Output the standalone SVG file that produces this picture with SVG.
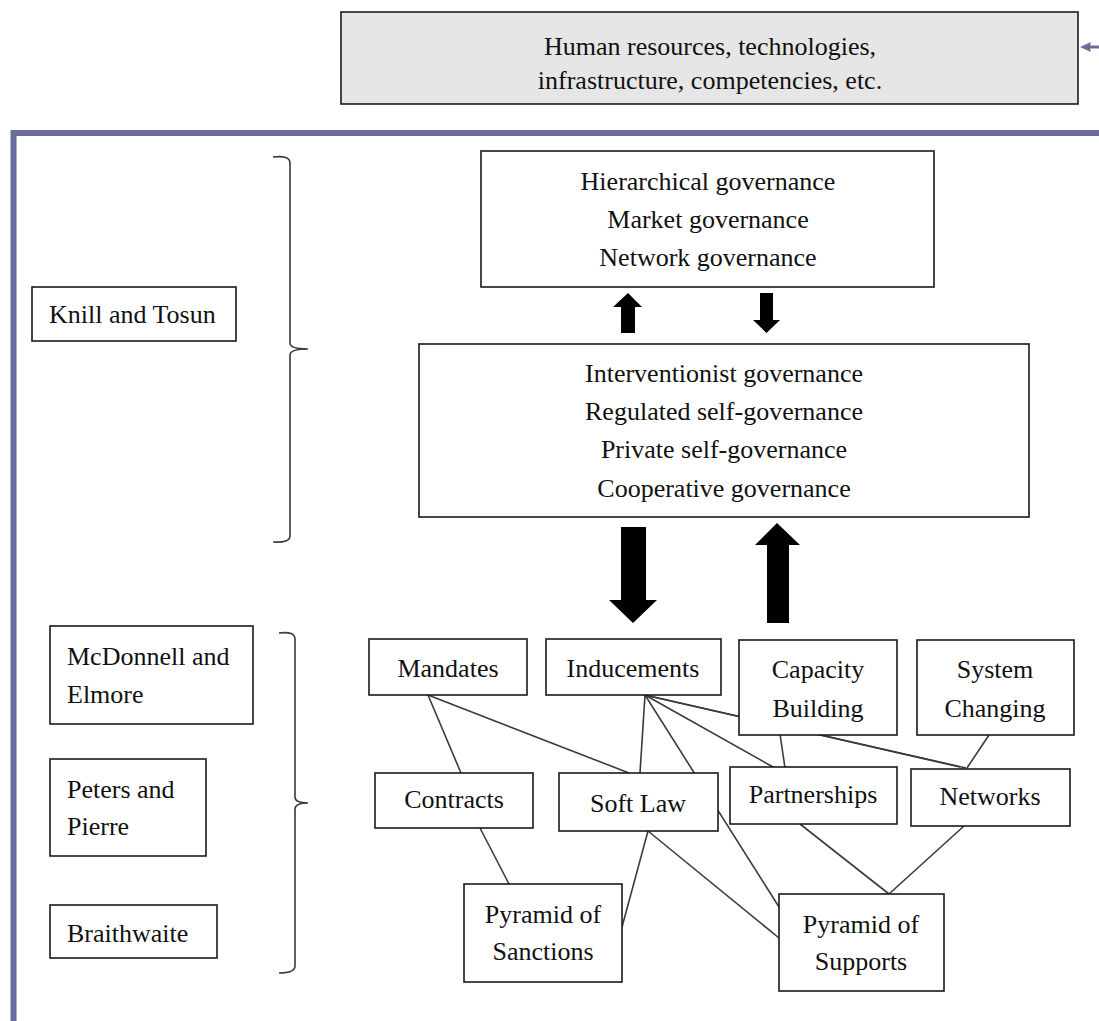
<svg xmlns="http://www.w3.org/2000/svg" width="1099" height="1021" viewBox="0 0 1099 1021">
<style>
  .box { fill: #ffffff; stroke: #1a1a1a; stroke-width: 1.6; }
  .grey { fill: #e6e6e6; stroke: #1a1a1a; stroke-width: 1.6; }
  .t { font-family: "Liberation Serif", "Times New Roman", serif; font-size: 26px; fill: #111; }
  .c { text-anchor: middle; }
  .conn { stroke: #3a3a44; stroke-width: 1.6; fill: none; }
  .brace { stroke: #3a3a3a; stroke-width: 1.6; fill: none; }
  .blk { fill: #000; }
  .frame { stroke: #6b6b9e; stroke-width: 6; fill: none; }
</style>
<rect x="0" y="0" width="1099" height="1021" fill="#ffffff"/>

<g id="frame">
  <path class="frame" d="M13.5,1021 L13.5,133 L1099,133"/>
  <path d="M1080,47 L1091,42 L1090,45.5 L1099,45.5 L1099,48.5 L1090,48.5 L1091,52 Z" fill="#6b6b9e"/>
</g>

<g id="resources">
  <rect class="grey" x="341" y="12" width="737" height="92"/>
  <text class="t c" x="710" y="55">Human resources, technologies,</text>
  <text class="t c" x="710" y="89">infrastructure, competencies, etc.</text>
</g>

<g id="governance-modes">
  <rect class="box" x="481" y="151" width="453" height="136"/>
  <text class="t c" x="708" y="190">Hierarchical governance</text>
  <text class="t c" x="708" y="228">Market governance</text>
  <text class="t c" x="708" y="266">Network governance</text>
</g>

<g id="governance-types">
  <rect class="box" x="419" y="344" width="610" height="173"/>
  <text class="t c" x="724" y="382">Interventionist governance</text>
  <text class="t c" x="724" y="420">Regulated self-governance</text>
  <text class="t c" x="724" y="458">Private self-governance</text>
  <text class="t c" x="724" y="497">Cooperative governance</text>
</g>

<g id="knill-tosun">
  <rect class="box" x="32" y="287" width="204" height="54"/>
  <text class="t" x="49" y="323">Knill and Tosun</text>
</g>

<g id="mcdonnell-elmore">
  <rect class="box" x="50" y="626" width="203" height="98"/>
  <text class="t" x="67" y="665">McDonnell and</text>
  <text class="t" x="67" y="703">Elmore</text>
</g>

<g id="peters-pierre">
  <rect class="box" x="50" y="759" width="156" height="97"/>
  <text class="t" x="67" y="798">Peters and</text>
  <text class="t" x="67" y="835">Pierre</text>
</g>

<g id="braithwaite">
  <rect class="box" x="50" y="905" width="167" height="53"/>
  <text class="t" x="67" y="942">Braithwaite</text>
</g>

<g id="braces">
  <path class="brace" d="M273,157 Q290,155 290,163 L290,343 Q290,349 308,349 Q290,349 290,355 L290,536 Q290,543 273,542"/>
  <path class="brace" d="M279,633 Q295,631 295,639 L295,797 Q295,803 308,803 Q295,803 295,809 L295,966 Q295,973 279,973"/>
</g>

<g id="connectors">
  <polygon class="blk" points="621,333 621,307 613,307 628,293 642,307 635,307 635,333"/>
  <polygon class="blk" points="760,293 773,293 773,320 780,320 766.5,333 753,320 760,320"/>
  <polygon class="blk" points="621,527 646,527 646,600 657,600 633,623 609,600 621,600"/>
  <polygon class="blk" points="767,623 767,545 755,545 777,523 800,545 789,545 789,623"/>
  <line class="conn" x1="428" y1="695" x2="461" y2="773"/>
  <line class="conn" x1="428" y1="695" x2="629" y2="773"/>
  <line class="conn" x1="645" y1="695" x2="640" y2="773"/>
  <line class="conn" x1="645" y1="695" x2="779" y2="907"/>
  <line class="conn" x1="645" y1="695" x2="773" y2="767"/>
  <line class="conn" x1="645" y1="695" x2="966" y2="768"/>
  <line class="conn" x1="649" y1="696" x2="960" y2="767"/>
  <line class="conn" x1="780" y1="734" x2="785" y2="768"/>
  <line class="conn" x1="989" y1="735" x2="967" y2="768"/>
  <line class="conn" x1="480" y1="828" x2="509" y2="884"/>
  <line class="conn" x1="648" y1="831" x2="622" y2="927"/>
  <line class="conn" x1="648" y1="831" x2="779" y2="938"/>
  <line class="conn" x1="800" y1="824" x2="889" y2="894"/>
  <line class="conn" x1="964" y1="826" x2="889" y2="894"/>
</g>

<g id="mandates">
  <rect class="box" x="369" y="639" width="158" height="56"/>
  <text class="t c" x="448" y="677">Mandates</text>
</g>
<g id="inducements">
  <rect class="box" x="546" y="639" width="175" height="56"/>
  <text class="t c" x="633" y="677">Inducements</text>
</g>
<g id="capacity-building">
  <rect class="box" x="739" y="640" width="158" height="95"/>
  <text class="t c" x="818" y="678">Capacity</text>
  <text class="t c" x="818" y="717">Building</text>
</g>
<g id="system-changing">
  <rect class="box" x="917" y="640" width="157" height="95"/>
  <text class="t c" x="995" y="678">System</text>
  <text class="t c" x="995" y="717">Changing</text>
</g>
<g id="contracts">
  <rect class="box" x="375" y="773" width="158" height="55"/>
  <text class="t c" x="454" y="808">Contracts</text>
</g>
<g id="soft-law">
  <rect class="box" x="559" y="773" width="159" height="58"/>
  <text class="t c" x="638" y="812">Soft Law</text>
</g>
<g id="partnerships">
  <rect class="box" x="730" y="767" width="167" height="57"/>
  <text class="t c" x="813" y="803">Partnerships</text>
</g>
<g id="networks">
  <rect class="box" x="911" y="769" width="159" height="57"/>
  <text class="t c" x="990" y="805">Networks</text>
</g>
<g id="pyramid-sanctions">
  <rect class="box" x="464" y="884" width="158" height="98"/>
  <text class="t c" x="543" y="923">Pyramid of</text>
  <text class="t c" x="543" y="960">Sanctions</text>
</g>
<g id="pyramid-supports">
  <rect class="box" x="779" y="894" width="165" height="97"/>
  <text class="t c" x="861" y="933">Pyramid of</text>
  <text class="t c" x="861" y="970">Supports</text>
</g>
</svg>
